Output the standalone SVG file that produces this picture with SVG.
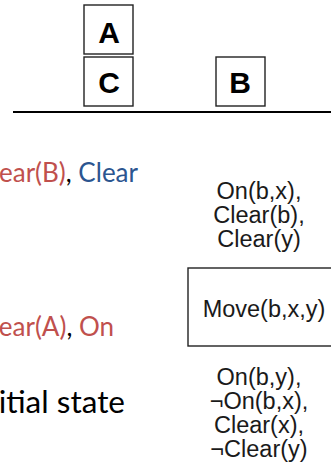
<svg xmlns="http://www.w3.org/2000/svg" width="331" height="475" viewBox="0 0 331 475">
  <style>
    .blk { fill: #fff; stroke: #222; stroke-width: 1.4; }
    .blkLabel { font-family: "Liberation Sans", Arial, sans-serif; font-weight: bold; font-size: 30px; fill: #000; text-anchor: middle; }
    .cond { font-family: "Liberation Sans", Arial, sans-serif; font-size: 23.5px; fill: #1a1a1a; text-anchor: middle; }
    .note { font-family: Lato, "Open Sans", sans-serif; font-size: 26px; text-anchor: end; }
    .red { fill: #C0504D; }
    .blue { fill: #2B5590; }
    .dark { fill: #000; }
  </style>

  <!-- blocks world: A on C, B on the table -->
  <g id="block-A">
    <rect class="blk" x="84" y="5" width="49" height="49"/>
    <text class="blkLabel" x="109" y="43">A</text>
  </g>
  <g id="block-C">
    <rect class="blk" x="84" y="57" width="49" height="49"/>
    <text class="blkLabel" x="109" y="93">C</text>
  </g>
  <g id="block-B">
    <rect class="blk" x="216" y="57" width="49" height="49"/>
    <text class="blkLabel" x="240" y="93">B</text>
  </g>
  <g id="table">
    <line x1="13" y1="112" x2="331" y2="112" stroke="#000" stroke-width="2"/>
  </g>

  <!-- state description -->
  <g id="state-text">
    <text class="note" x="138" y="182"><tspan class="red">ear(B)</tspan><tspan class="dark">,</tspan><tspan class="blue"> Clear</tspan></text>
    <text class="note" x="114" y="336"><tspan class="red">ear(A)</tspan><tspan class="dark">,</tspan><tspan class="red"> On</tspan></text>
    <text class="note dark" x="125" y="413" style="font-size:31.5px">itial state</text>
  </g>

  <!-- Move operator with preconditions and effects -->
  <g id="preconditions">
    <text class="cond" x="259" y="199">On(b,x),</text>
    <text class="cond" x="259" y="223">Clear(b),</text>
    <text class="cond" x="259" y="247">Clear(y)</text>
  </g>
  <g id="move-op">
    <rect class="blk" x="188" y="268" width="150" height="78"/>
    <text class="cond" x="264" y="317">Move(b,x,y)</text>
  </g>
  <g id="effects">
    <text class="cond" x="259" y="385">On(b,y),</text>
    <text class="cond" x="259" y="409">¬On(b,x),</text>
    <text class="cond" x="259" y="433">Clear(x),</text>
    <text class="cond" x="259" y="457">¬Clear(y)</text>
  </g>
  <g id="connectors"/>
</svg>
